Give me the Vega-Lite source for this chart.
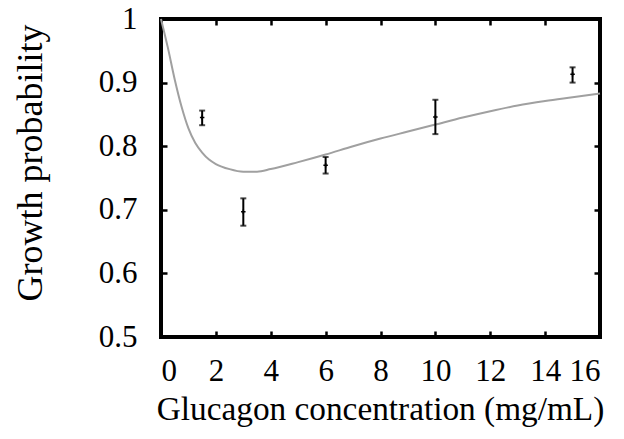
{
  "$schema": "https://vega.github.io/schema/vega-lite/v6.json",
  "autosize": {"type": "none"},
  "padding": {"left": 161, "top": 19, "right": 24, "bottom": 102},
  "width": 439,
  "height": 318,
  "background": "white",
  "config": {
    "view": {"stroke": "black", "strokeWidth": 4},
    "font": "Liberation Serif",
    "axis": {
      "domain": false,
      "grid": false,
      "tickColor": "black",
      "tickWidth": 2.5,
      "tickSize": -6,
      "labelFont": "Liberation Serif",
      "labelFontSize": 31,
      "labelColor": "black",
      "titleFont": "Liberation Serif",
      "titleFontWeight": "normal",
      "titleColor": "black"
    }
  },
  "datasets": {
    "points": [
      {"x": 1.5, "y": 0.845, "lo": 0.833, "hi": 0.856},
      {"x": 3, "y": 0.697, "lo": 0.675, "hi": 0.718},
      {"x": 6, "y": 0.770, "lo": 0.757, "hi": 0.783},
      {"x": 10, "y": 0.846, "lo": 0.819, "hi": 0.873},
      {"x": 15, "y": 0.913, "lo": 0.900, "hi": 0.924}
    ],
    "curve": [
      {"x": 0, "y": 1.0},
      {"x": 0.25, "y": 0.955},
      {"x": 0.5, "y": 0.905},
      {"x": 0.75, "y": 0.862},
      {"x": 1.0, "y": 0.828},
      {"x": 1.25, "y": 0.805},
      {"x": 1.5, "y": 0.790},
      {"x": 1.75, "y": 0.779},
      {"x": 2.0, "y": 0.772},
      {"x": 2.5, "y": 0.764},
      {"x": 3.0, "y": 0.760},
      {"x": 3.5, "y": 0.760},
      {"x": 4.0, "y": 0.764},
      {"x": 5.0, "y": 0.775},
      {"x": 6.0, "y": 0.787},
      {"x": 7.0, "y": 0.800},
      {"x": 8.0, "y": 0.812},
      {"x": 9.0, "y": 0.823},
      {"x": 10.0, "y": 0.834},
      {"x": 11.0, "y": 0.845},
      {"x": 12.0, "y": 0.855},
      {"x": 13.0, "y": 0.864},
      {"x": 14.0, "y": 0.871},
      {"x": 15.0, "y": 0.877},
      {"x": 16.0, "y": 0.883}
    ]
  },
  "resolve": {"axis": {"x": "independent", "y": "independent"}},
  "layer": [
    {
      "data": {"name": "curve"},
      "mark": {"type": "line", "color": "#a0a0a0", "strokeWidth": 2, "interpolate": "monotone"},
      "encoding": {
        "x": {
          "field": "x", "type": "quantitative",
          "scale": {"domain": [0, 16], "nice": false, "zero": false},
          "axis": {
            "orient": "bottom", "values": [0, 2, 4, 6, 8, 10, 12, 14, 16],
            "labelPadding": 25,
            "title": "Glucagon concentration (mg/mL)",
            "titleFontSize": 33.3,
            "titleX": 219, "titleY": 82, "titleAlign": "center", "titleBaseline": "alphabetic"
          }
        },
        "y": {
          "field": "y", "type": "quantitative",
          "scale": {"domain": [0.5, 1], "nice": false, "zero": false},
          "axis": {
            "orient": "left", "values": [0.5, 0.6, 0.7, 0.8, 0.9, 1],
            "labelPadding": 30,
            "labelExpr": "datum.value == 1 ? '1' : format(datum.value, '.1f')",
            "title": "Growth probability",
            "titleFontSize": 36,
            "titleX": -119.5, "titleY": 143.5, "titleAngle": 270, "titleAlign": "center", "titleBaseline": "alphabetic"
          }
        }
      }
    },
    {
      "data": {"name": "points"},
      "mark": {"type": "rule", "color": "black", "strokeWidth": 2},
      "encoding": {
        "x": {
          "field": "x", "type": "quantitative",
          "scale": {"domain": [0, 16], "nice": false, "zero": false},
          "axis": {"orient": "top", "values": [0, 2, 4, 6, 8, 10, 12, 14, 16], "labels": false, "title": null}
        },
        "y": {
          "field": "lo", "type": "quantitative",
          "scale": {"domain": [0.5, 1], "nice": false, "zero": false},
          "axis": {"orient": "right", "values": [0.5, 0.6, 0.7, 0.8, 0.9, 1], "labels": false, "title": null}
        },
        "y2": {"field": "hi"}
      }
    },
    {
      "data": {"name": "points"},
      "mark": {"type": "tick", "orient": "horizontal", "color": "black", "size": 6, "thickness": 2},
      "encoding": {
        "x": {"field": "x", "type": "quantitative", "scale": {"domain": [0, 16], "nice": false, "zero": false}, "axis": null},
        "y": {"field": "lo", "type": "quantitative", "scale": {"domain": [0.5, 1], "nice": false, "zero": false}, "axis": null}
      }
    },
    {
      "data": {"name": "points"},
      "mark": {"type": "tick", "orient": "horizontal", "color": "black", "size": 6, "thickness": 2},
      "encoding": {
        "x": {"field": "x", "type": "quantitative", "scale": {"domain": [0, 16], "nice": false, "zero": false}, "axis": null},
        "y": {"field": "hi", "type": "quantitative", "scale": {"domain": [0.5, 1], "nice": false, "zero": false}, "axis": null}
      }
    },
    {
      "data": {"name": "points"},
      "mark": {"type": "point", "shape": "M-1,0L1,0M0,-1L0,1", "filled": false, "stroke": "black", "strokeWidth": 1.5, "size": 20, "opacity": 1},
      "encoding": {
        "x": {"field": "x", "type": "quantitative", "scale": {"domain": [0, 16], "nice": false, "zero": false}, "axis": null},
        "y": {"field": "y", "type": "quantitative", "scale": {"domain": [0.5, 1], "nice": false, "zero": false}, "axis": null}
      }
    }
  ]
}
